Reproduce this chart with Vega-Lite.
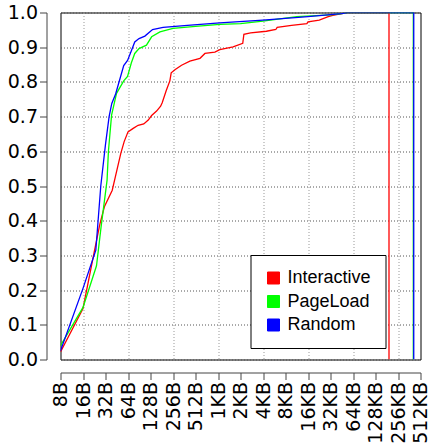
{
  "$schema": "https://vega.github.io/schema/vega-lite/v6.json",
  "width": 360,
  "height": 347,
  "autosize": {"type": "none"},
  "padding": {"left": 60.5, "top": 12.5, "right": 7.5, "bottom": 86.5},
  "background": "white",
  "config": {
    "view": {"stroke": "black", "strokeWidth": 1},
    "font": "DejaVu Sans",
    "axis": {
      "labelFont": "DejaVu Sans",
      "labelFontSize": 19,
      "labelColor": "black",
      "domainColor": "#444",
      "tickColor": "#444",
      "tickSize": 7,
      "labelPadding": 2,
      "labelOverlap": false,
      "labelFlush": false,
      "labelBound": false,
      "gridDash": [1, 2]
    }
  },
  "data": {
    "values": [
      {"workload": "Interactive", "log2bytes": 3, "cdf": 0.022},
      {"workload": "Interactive", "log2bytes": 4, "cdf": 0.147},
      {"workload": "Interactive", "log2bytes": 4.5, "cdf": 0.31},
      {"workload": "Interactive", "log2bytes": 4.75, "cdf": 0.39},
      {"workload": "Interactive", "log2bytes": 4.95, "cdf": 0.44},
      {"workload": "Interactive", "log2bytes": 5.3, "cdf": 0.488},
      {"workload": "Interactive", "log2bytes": 5.45, "cdf": 0.53},
      {"workload": "Interactive", "log2bytes": 5.68, "cdf": 0.594},
      {"workload": "Interactive", "log2bytes": 5.83, "cdf": 0.628},
      {"workload": "Interactive", "log2bytes": 6.0, "cdf": 0.656},
      {"workload": "Interactive", "log2bytes": 6.23, "cdf": 0.666},
      {"workload": "Interactive", "log2bytes": 6.45, "cdf": 0.675},
      {"workload": "Interactive", "log2bytes": 6.7, "cdf": 0.679},
      {"workload": "Interactive", "log2bytes": 6.9, "cdf": 0.69},
      {"workload": "Interactive", "log2bytes": 7.05, "cdf": 0.703},
      {"workload": "Interactive", "log2bytes": 7.27, "cdf": 0.716},
      {"workload": "Interactive", "log2bytes": 7.45, "cdf": 0.73},
      {"workload": "Interactive", "log2bytes": 7.52, "cdf": 0.74},
      {"workload": "Interactive", "log2bytes": 7.7, "cdf": 0.775},
      {"workload": "Interactive", "log2bytes": 7.86, "cdf": 0.803},
      {"workload": "Interactive", "log2bytes": 7.92, "cdf": 0.826},
      {"workload": "Interactive", "log2bytes": 8.1, "cdf": 0.836},
      {"workload": "Interactive", "log2bytes": 8.38, "cdf": 0.848},
      {"workload": "Interactive", "log2bytes": 8.75, "cdf": 0.86},
      {"workload": "Interactive", "log2bytes": 9.2, "cdf": 0.868},
      {"workload": "Interactive", "log2bytes": 9.42, "cdf": 0.882},
      {"workload": "Interactive", "log2bytes": 9.86, "cdf": 0.886},
      {"workload": "Interactive", "log2bytes": 10.08, "cdf": 0.893},
      {"workload": "Interactive", "log2bytes": 10.67, "cdf": 0.901},
      {"workload": "Interactive", "log2bytes": 11.1, "cdf": 0.911},
      {"workload": "Interactive", "log2bytes": 11.15, "cdf": 0.937},
      {"workload": "Interactive", "log2bytes": 11.45, "cdf": 0.941},
      {"workload": "Interactive", "log2bytes": 12.15, "cdf": 0.946},
      {"workload": "Interactive", "log2bytes": 12.57, "cdf": 0.951},
      {"workload": "Interactive", "log2bytes": 12.63, "cdf": 0.957},
      {"workload": "Interactive", "log2bytes": 13.27, "cdf": 0.963},
      {"workload": "Interactive", "log2bytes": 13.95, "cdf": 0.968},
      {"workload": "Interactive", "log2bytes": 14.0, "cdf": 0.973},
      {"workload": "Interactive", "log2bytes": 14.5, "cdf": 0.978},
      {"workload": "Interactive", "log2bytes": 14.9, "cdf": 0.988},
      {"workload": "Interactive", "log2bytes": 15.1, "cdf": 0.992},
      {"workload": "Interactive", "log2bytes": 15.5, "cdf": 0.997},
      {"workload": "Interactive", "log2bytes": 15.75, "cdf": 1.0},
      {"workload": "Interactive", "log2bytes": 17.6, "cdf": 1.0},
      {"workload": "Interactive", "log2bytes": 17.6, "cdf": 0.0},

      {"workload": "PageLoad", "log2bytes": 3, "cdf": 0.04},
      {"workload": "PageLoad", "log2bytes": 4, "cdf": 0.15},
      {"workload": "PageLoad", "log2bytes": 4.6, "cdf": 0.27},
      {"workload": "PageLoad", "log2bytes": 4.8, "cdf": 0.38},
      {"workload": "PageLoad", "log2bytes": 5.07, "cdf": 0.517},
      {"workload": "PageLoad", "log2bytes": 5.13, "cdf": 0.6},
      {"workload": "PageLoad", "log2bytes": 5.27, "cdf": 0.704},
      {"workload": "PageLoad", "log2bytes": 5.49, "cdf": 0.767},
      {"workload": "PageLoad", "log2bytes": 5.81, "cdf": 0.803},
      {"workload": "PageLoad", "log2bytes": 5.98, "cdf": 0.816},
      {"workload": "PageLoad", "log2bytes": 6.15, "cdf": 0.855},
      {"workload": "PageLoad", "log2bytes": 6.3, "cdf": 0.882},
      {"workload": "PageLoad", "log2bytes": 6.49, "cdf": 0.896},
      {"workload": "PageLoad", "log2bytes": 6.82, "cdf": 0.906},
      {"workload": "PageLoad", "log2bytes": 7.05, "cdf": 0.93},
      {"workload": "PageLoad", "log2bytes": 7.42, "cdf": 0.944},
      {"workload": "PageLoad", "log2bytes": 8.0, "cdf": 0.954},
      {"workload": "PageLoad", "log2bytes": 9.0, "cdf": 0.96},
      {"workload": "PageLoad", "log2bytes": 10.08, "cdf": 0.966},
      {"workload": "PageLoad", "log2bytes": 11.0, "cdf": 0.968},
      {"workload": "PageLoad", "log2bytes": 12.0, "cdf": 0.975},
      {"workload": "PageLoad", "log2bytes": 13.5, "cdf": 0.988},
      {"workload": "PageLoad", "log2bytes": 15.0, "cdf": 0.993},
      {"workload": "PageLoad", "log2bytes": 15.5, "cdf": 0.997},
      {"workload": "PageLoad", "log2bytes": 15.75, "cdf": 1.0},
      {"workload": "PageLoad", "log2bytes": 18.68, "cdf": 1.0},
      {"workload": "PageLoad", "log2bytes": 18.68, "cdf": 0.0},

      {"workload": "Random", "log2bytes": 3, "cdf": 0.025},
      {"workload": "Random", "log2bytes": 4, "cdf": 0.205},
      {"workload": "Random", "log2bytes": 4.57, "cdf": 0.315},
      {"workload": "Random", "log2bytes": 4.79, "cdf": 0.5},
      {"workload": "Random", "log2bytes": 5.0, "cdf": 0.62},
      {"workload": "Random", "log2bytes": 5.16, "cdf": 0.7},
      {"workload": "Random", "log2bytes": 5.28, "cdf": 0.738},
      {"workload": "Random", "log2bytes": 5.45, "cdf": 0.765},
      {"workload": "Random", "log2bytes": 5.81, "cdf": 0.847},
      {"workload": "Random", "log2bytes": 5.98, "cdf": 0.862},
      {"workload": "Random", "log2bytes": 6.15, "cdf": 0.89},
      {"workload": "Random", "log2bytes": 6.3, "cdf": 0.915},
      {"workload": "Random", "log2bytes": 6.49, "cdf": 0.925},
      {"workload": "Random", "log2bytes": 6.75, "cdf": 0.932},
      {"workload": "Random", "log2bytes": 7.09, "cdf": 0.951},
      {"workload": "Random", "log2bytes": 7.56, "cdf": 0.957},
      {"workload": "Random", "log2bytes": 8.5, "cdf": 0.962},
      {"workload": "Random", "log2bytes": 10.08, "cdf": 0.97},
      {"workload": "Random", "log2bytes": 12.0, "cdf": 0.978},
      {"workload": "Random", "log2bytes": 14.0, "cdf": 0.988},
      {"workload": "Random", "log2bytes": 15.49, "cdf": 0.997},
      {"workload": "Random", "log2bytes": 15.75, "cdf": 1.0},
      {"workload": "Random", "log2bytes": 18.7, "cdf": 1.0},
      {"workload": "Random", "log2bytes": 18.7, "cdf": 0.0}
    ]
  },
  "encoding": {
    "x": {
      "field": "log2bytes",
      "type": "quantitative",
      "scale": {"domain": [3, 19], "nice": false, "zero": false},
      "axis": {
        "title": null,
        "offset": 13,
        "values": [3, 4, 5, 6, 7, 8, 9, 10, 11, 12, 13, 14, 15, 16, 17, 18, 19],
        "labelAngle": 270,
        "labelExpr": "['8B','16B','32B','64B','128B','256B','512B','1KB','2KB','4KB','8KB','16KB','32KB','64KB','128KB','256KB','512KB'][datum.value - 3]",
        "grid": true,
        "gridColor": "#999",
        "gridOpacity": {"condition": {"test": "datum.value % 2 === 0", "value": 1}, "value": 0}
      }
    },
    "y": {
      "field": "cdf",
      "type": "quantitative",
      "scale": {"domain": [0, 1], "nice": false},
      "axis": {
        "title": null,
        "offset": 14,
        "values": [0, 0.1, 0.2, 0.3, 0.4, 0.5, 0.6, 0.7, 0.8, 0.9, 1.0],
        "format": ".1f",
        "grid": true,
        "gridColor": "#555"
      }
    }
  },
  "layer": [
    {
      "mark": {"type": "point", "shape": "square", "filled": true, "opacity": 0},
      "encoding": {
        "color": {
          "field": "workload",
          "type": "nominal",
          "scale": {"domain": ["Interactive", "PageLoad", "Random"], "range": ["#ff0000", "#00ff00", "#0000ff"]},
          "legend": {
            "title": null,
            "orient": "none",
            "legendX": 190,
            "legendY": 242.5,
            "strokeColor": "black",
            "fillColor": "white",
            "padding": 14,
            "symbolType": "square",
            "symbolSize": 144,
            "symbolStrokeColor": "black",
            "symbolStrokeWidth": 1,
            "symbolOpacity": 1,
            "labelFont": "Liberation Sans",
            "labelFontSize": 18,
            "labelColor": "black",
            "labelOffset": 5,
            "labelLimit": 300,
            "rowPadding": 5.5
          }
        }
      }
    },
    {
      "mark": {"type": "line", "strokeWidth": 1.3, "clip": true},
      "encoding": {
        "color": {"field": "workload", "type": "nominal", "legend": null},
        "order": {"value": null}
      }
    }
  ]
}
